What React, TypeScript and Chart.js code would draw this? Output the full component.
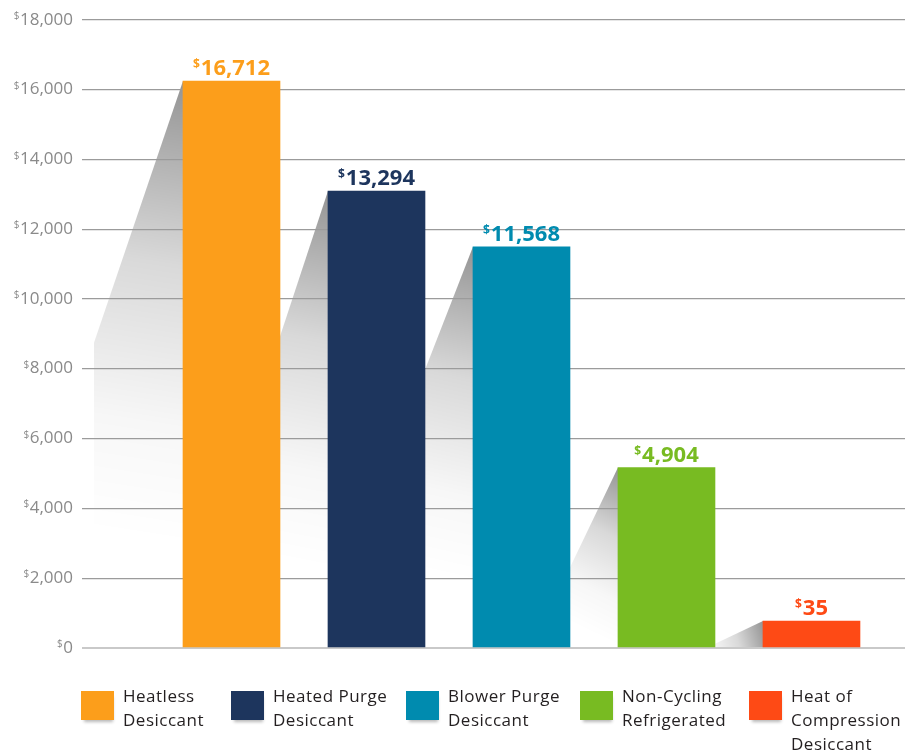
import React, { useEffect, useRef } from "react";
import { Chart, registerables } from "chart.js";

Chart.register(...registerables);

// ---- data ----
const categories = [
  "Heatless\nDesiccant",
  "Heated Purge\nDesiccant",
  "Blower Purge\nDesiccant",
  "Non-Cycling\nRefrigerated",
  "Heat of\nCompression\nDesiccant",
];
const barValues = [16250, 13100, 11500, 5170, 775];
const labelValues = [16712, 13294, 11568, 4904, 35];
const yTickValues = [0, 2000, 4000, 6000, 8000, 10000, 12000, 14000, 16000, 18000];

// ---- styles ----
const barColors = ["#FC9E1B", "#1D355D", "#008BAF", "#78BB22", "#FE4A15"];
const shadowSlopes = [0.34, 0.33, 0.39, 0.48, 2.1];
const legendLefts = [81, 231, 406, 580, 749];
const FONT = "'Open Sans', sans-serif";

const fmt = (v: number) => v.toLocaleString("en-US");

const shadowPlugin = {
  id: "barShadows",
  beforeDraw(chart: any) {
    const ctx = chart.ctx as CanvasRenderingContext2D;
    const meta = chart.getDatasetMeta(0);
    const reach = 89;
    meta.data.forEach((bar: any, i: number) => {
      const { x, y, base, width } = bar.getProps(["x", "y", "base", "width"], true);
      const left = x - width / 2;
      const slope = shadowSlopes[i];
      const tipX = left - reach;
      const tipY = y + reach / slope;
      ctx.save();
      ctx.beginPath();
      ctx.moveTo(left, y);
      if (tipY >= base) {
        ctx.lineTo(left - (base - y) * slope, base);
      } else {
        ctx.lineTo(tipX, tipY);
        ctx.lineTo(tipX, base);
      }
      ctx.lineTo(left, base);
      ctx.closePath();
      const g = ctx.createLinearGradient(left, y, left - reach * 0.8, y + (base - y) * 0.8);
      g.addColorStop(0, "rgba(0,0,0,0.42)");
      g.addColorStop(0.4, "rgba(0,0,0,0.15)");
      g.addColorStop(0.75, "rgba(0,0,0,0.03)");
      g.addColorStop(1, "rgba(0,0,0,0)");
      ctx.fillStyle = g;
      ctx.fill();
      ctx.restore();
    });
  },
};

const yLabelPlugin = {
  id: "yLabels",
  afterDraw(chart: any) {
    const ctx = chart.ctx as CanvasRenderingContext2D;
    const scale = chart.scales.y;
    const right = chart.chartArea.left - 9;
    ctx.save();
    ctx.fillStyle = "#8a8a8a";
    yTickValues.forEach((v) => {
      const py = scale.getPixelForValue(v);
      const txt = fmt(v);
      ctx.font = `17px ${FONT}`;
      ctx.textAlign = "right";
      ctx.textBaseline = "alphabetic";
      const baseY = py + 4.5;
      ctx.fillText(txt, right, baseY);
      const w = ctx.measureText(txt).width;
      ctx.font = `10px ${FONT}`;
      ctx.fillText("$", right - w - 0.5, baseY - 5.5);
    });
    ctx.restore();
  },
};

const valueLabelPlugin = {
  id: "valueLabels",
  afterDatasetsDraw(chart: any) {
    const ctx = chart.ctx as CanvasRenderingContext2D;
    const meta = chart.getDatasetMeta(0);
    ctx.save();
    meta.data.forEach((bar: any, i: number) => {
      const { x, y } = bar.getProps(["x", "y"], true);
      const txt = fmt(labelValues[i]);
      ctx.font = `bold 22px ${FONT}`;
      const nw = ctx.measureText(txt).width;
      ctx.font = `bold 12px ${FONT}`;
      const dw = ctx.measureText("$").width;
      const total = nw + dw + 1;
      const startX = x - total / 2;
      const baseY = y - 6;
      ctx.fillStyle = barColors[i];
      ctx.textAlign = "left";
      ctx.textBaseline = "alphabetic";
      ctx.font = `bold 12px ${FONT}`;
      ctx.fillText("$", startX, baseY - 7);
      ctx.font = `bold 22px ${FONT}`;
      ctx.fillText(txt, startX + dw + 1, baseY);
    });
    ctx.restore();
  },
};

export default function App() {
  const ref = useRef<HTMLCanvasElement>(null);

  useEffect(() => {
    document.body.style.margin = "0";
    const canvas = ref.current;
    if (!canvas) return;
    const chart = new Chart(canvas, {
      type: "bar",
      data: {
        datasets: [
          {
            data: barValues.map((v, i) => ({ x: i, y: v })),
            backgroundColor: barColors,
            borderWidth: 0,
            barThickness: 97,
          } as any,
        ],
      },
      options: {
        animation: false,
        responsive: false,
        maintainAspectRatio: false,
        layout: { padding: { left: 82, top: 20, right: 0, bottom: 104 } },
        plugins: {
          legend: { display: false },
          tooltip: { enabled: false },
        },
        scales: {
          x: {
            type: "linear",
            min: -1.031,
            max: 4.645,
            offset: false,
            display: false,
            grid: { offset: false },
          },
          y: {
            min: 0,
            max: 18000,
            afterBuildTicks: (s: any) => {
              s.ticks = yTickValues.map((v) => ({ value: v }));
            },
            ticks: { display: false },
            border: { display: false },
            grid: {
              drawTicks: false,
              color: (c: any) => (c.tick && c.tick.value === 0 ? "#c9c9c9" : "#9b9b9b"),
              lineWidth: (c: any) => (c.tick && c.tick.value === 0 ? 2 : 1.3),
            },
          },
        },
      } as any,
      plugins: [shadowPlugin, yLabelPlugin, valueLabelPlugin],
    });
    return () => chart.destroy();
  }, []);

  return (
    <div style={{ position: "absolute", left: 0, top: 0, width: 905, height: 752, background: "#fff", overflow: "hidden" }}>
      <canvas ref={ref} width={905} height={752} style={{ display: "block", width: 905, height: 752 }} />
      {categories.map((c, i) => (
        <div key={i} style={{ position: "absolute", left: legendLefts[i], top: 691 }}>
          <div
            style={{
              position: "absolute",
              left: 0,
              top: 0,
              width: 33,
              height: 29,
              background: barColors[i],
              boxShadow: "1px 4px 3px -2px rgba(0,0,0,0.28)",
            }}
          />
          <div
            style={{
              position: "absolute",
              left: 42,
              top: -7,
              whiteSpace: "pre",
              fontFamily: FONT,
              fontSize: 17,
              letterSpacing: "0.5px",
              lineHeight: "24px",
              color: "#231f20",
            }}
          >
            {c}
          </div>
        </div>
      ))}
    </div>
  );
}
